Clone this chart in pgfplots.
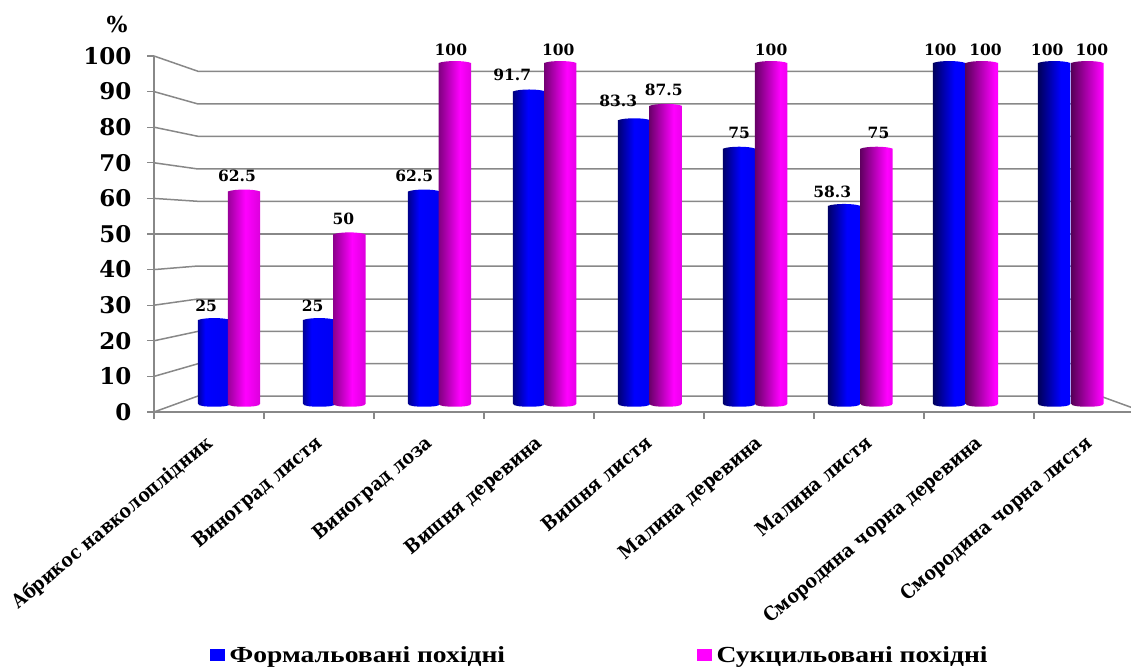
\documentclass[border=0pt]{standalone}
\usepackage{fontspec}
\usepackage{pgfplots}
\usepackage{pgfplotstable}
\pgfplotsset{compat=1.18}
\setmainfont{DejaVu Serif}
\newfontfamily\catfont{DejaVu Serif Condensed}
\newfontfamily\legfont[FakeStretch=1.2]{Liberation Serif}

% i: group index, form/suk: percentages, fdx/fdy/sdx/sdy: label offsets
\pgfplotstableread{
i form fdx fdy suk sdx sdy
0 25 -8 12.5 62.5 -7 13.5
1 25 -6.5 12.5 50 -6 13.5
2 62.5 -10 13.5 100 -4 11
3 91.7 -17 14.5 100 -2 11
4 83.3 -16 17 87.5 -2 13.5
5 75 0 13.5 100 0 11
6 58.3 -12 12.5 75 2 13.5
7 100 -9 11 100 3.5 11
8 100 -7 11 100 4.5 11
}\datatable

% Cylinder lighting per group: dark left edge, bright band, right edge
\newcommand\formshade[4]{\pgfdeclarehorizontalshading{form#1}{100bp}{rgb(0bp)=(0,0,#2); rgb(25bp)=(0,0,#2); rgb(#3bp)=(0,0,1); rgb(75bp)=(0,0,#4); rgb(100bp)=(0,0,#4)}}
\newcommand\sukshade[4]{\pgfdeclarehorizontalshading{suk#1}{100bp}{rgb(0bp)=(#2,0,#2); rgb(25bp)=(#2,0,#2); rgb(#3bp)=(1,0,1); rgb(75bp)=(#4,0,#4); rgb(100bp)=(#4,0,#4)}}
\formshade{0}{.62}{36}{.95}
\formshade{1}{.60}{38}{.95}
\formshade{2}{.55}{42}{.95}
\formshade{3}{.50}{48}{.95}
\formshade{4}{.45}{50}{.95}
\formshade{5}{.42}{52}{.95}
\formshade{6}{.40}{54}{1}
\formshade{7}{.36}{58}{1}
\formshade{8}{.34}{60}{1}
\sukshade{0}{.60}{52}{.86}
\sukshade{1}{.55}{54}{.86}
\sukshade{2}{.50}{58}{.88}
\sukshade{3}{.45}{60}{.90}
\sukshade{4}{.42}{62}{.92}
\sukshade{5}{.40}{64}{.94}
\sukshade{6}{.38}{66}{.95}
\sukshade{7}{.36}{70}{1}
\sukshade{8}{.34}{73}{1}

% Cylinder outline hanging below the data point; height follows the value
\newdimen\cylh
\newcommand\cylpath{%
  \pgfmathsetlength\cylh{\val*3.427pt}%
  \pgfpathmoveto{\pgfqpoint{-16.2pt}{-2pt}}%
  \pgfpathcurveto{\pgfqpoint{-10pt}{.6pt}}{\pgfqpoint{10pt}{.6pt}}{\pgfqpoint{16.2pt}{-2pt}}%
  \pgfpathlineto{\pgfpoint{16.2pt}{-\cylh}}%
  \pgfpathcurveto{\pgfpoint{16.2pt}{-\cylh-2.5pt}}{\pgfpoint{8pt}{-\cylh-3pt}}{\pgfpoint{0pt}{-\cylh-3pt}}%
  \pgfpathcurveto{\pgfpoint{-8pt}{-\cylh-3pt}}{\pgfpoint{-16.2pt}{-\cylh-2.5pt}}{\pgfpoint{-16.2pt}{-\cylh}}%
  \pgfpathclose}
\pgfdeclareplotmark{cylform}{\pgfmathtruncatemacro\grp{\idx}\cylpath\pgfshadepath{form\grp}{0}\pgfusepath{discard}}
\pgfdeclareplotmark{cylsuk}{\pgfmathtruncatemacro\grp{\idx}\cylpath\pgfshadepath{suk\grp}{0}\pgfusepath{discard}}

\definecolor{wallgray}{RGB}{136,136,136}
\definecolor{legmag}{RGB}{255,0,255}
\pgfplotsset{wall/.style={wallgray,line width=1.5pt,forget plot}}

\begin{document}
\begin{tikzpicture}
\useasboundingbox (0,0) rectangle (1131pt,666pt);
\clip (0,0) rectangle (1131pt,666pt);

% Axis frame, tick labels, back wall and legend
\begin{axis}[
  at={(154pt,254pt)},anchor=south west,scale only axis,width=990pt,height=356pt,
  xmin=0,xmax=9,ymin=0,ymax=100,clip=false,
  axis x line*=bottom,axis y line*=left,
  axis line style={wallgray,line width=1.5pt},
  tick align=outside,major tick length=7pt,
  tick style={wallgray,line width=1.3pt},
  /pgf/number format/assume math mode=true,
  ytick={0,10,...,100},
  yticklabel style={font=\fontsize{23}{24}\selectfont\bfseries,xshift=-12pt},
  xtick={0,1,...,9},xticklabels={},
  extra x ticks={.5,1.5,2.5,3.5,4.5,5.5,6.5,7.5,8.5},
  extra x tick labels={Абрикос навколоплідник,Виноград листя,Виноград лоза,Вишня деревина,Вишня листя,Малина деревина,Малина листя,Смородина чорна деревина,Смородина чорна листя},
  extra x tick style={major tick length=0pt,
    xticklabel style={font=\catfont\fontsize{19.2}{24}\selectfont\bfseries,rotate=40,anchor=north east,inner sep=0pt,xshift=-17.6pt,yshift=-13.7pt}},
  legend style={at={(0.0566,-.713)},anchor=south west,draw=none,fill=none,inner sep=0pt,
    legend columns=2,font=\legfont\fontsize{23}{26}\selectfont\bfseries,
    /tikz/column 2/.style={column sep=190pt}},
  legend cell align=left,
]
\addlegendimage{legend image code/.code={\fill[blue] (0pt,-5pt) rectangle (14pt,6pt);\path (17pt,0pt);}}
\addlegendentry{Формальовані похідні}
\addlegendimage{legend image code/.code={\fill[legmag] (0pt,-5pt) rectangle (14pt,6pt);\path (17pt,0pt);}}
\addlegendentry{Сукцильовані похідні}
\addplot[wall] coordinates {(0,100)(0.4,95.70)(8.6,95.70)};
\addplot[wall] coordinates {(0,90)(0.4,86.52)(8.6,86.52)};
\addplot[wall] coordinates {(0,80)(0.4,77.44)(8.6,77.44)};
\addplot[wall] coordinates {(0,70)(0.4,68.26)(8.6,68.26)};
\addplot[wall] coordinates {(0,60)(0.4,59.18)(8.6,59.18)};
\addplot[wall] coordinates {(0,50)(0.4,50.00)(8.6,50.00)};
\addplot[wall] coordinates {(0,40)(0.4,41.01)(8.6,41.01)};
\addplot[wall] coordinates {(0,30)(0.4,31.74)(8.6,31.74)};
\addplot[wall] coordinates {(0,20)(0.4,22.65)(8.6,22.65)};
\addplot[wall] coordinates {(0,10)(0.4,13.56)(8.6,13.56)};
\addplot[wall] coordinates {(0,0)(0.4,4.49)(8.6,4.49)(9,0)};
\end{axis}

% Cylinders: the zero level lies behind the front edge of the floor
\begin{axis}[
  at={(0pt,262.3pt)},anchor=south west,scale only axis,width=1131pt,height=342.7pt,
  xmin=-2.04,xmax=8.7314,ymin=0,ymax=100,hide axis,clip=false,
  /pgf/number format/assume math mode=true,
  /pgf/number format/fixed,/pgf/number format/precision=1,
  nodes near coords,
  every node near coord/.append style={font=\fontsize{15.5}{16}\selectfont\bfseries,text=black,
    anchor=center,inner sep=0pt,yshift=\lbly pt,xshift=\lbl pt},
]
\addplot[scatter,only marks,mark=cylform,
  visualization depends on={\thisrow{form}\as\val},
  visualization depends on={\thisrow{i}\as\idx},
  visualization depends on={\thisrow{fdx}\as\lbl},
  visualization depends on={\thisrow{fdy}\as\lbly},
] table[x=i,y=form] {\datatable};
\addplot[scatter,only marks,mark=cylsuk,
  visualization depends on={\thisrow{suk}\as\val},
  visualization depends on={\thisrow{i}\as\idx},
  visualization depends on={\thisrow{sdx}\as\lbl},
  visualization depends on={\thisrow{sdy}\as\lbly},
] table[x expr=\thisrow{i}*1.004+0.284,y=suk] {\datatable};
\end{axis}

\node[font=\fontsize{22}{24}\selectfont\bfseries] at (117pt,641pt) {\%};
\end{tikzpicture}
\end{document}
